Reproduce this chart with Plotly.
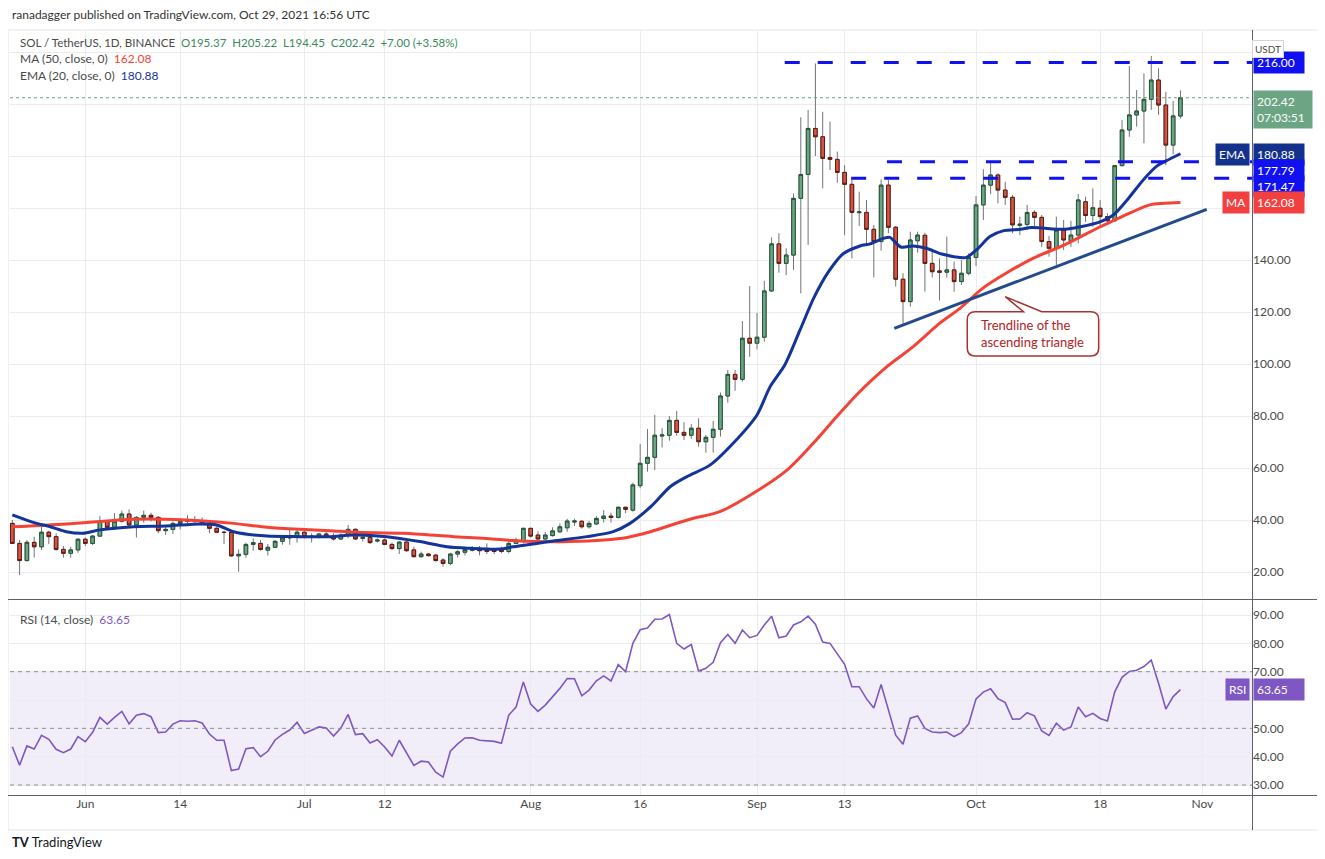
import pandas as pd
import plotly.graph_objects as go

# daily candles, first one is 2021-05-22
first_day = '2021-05-22'
opens = [38.7, 31.0, 24.4, 31.4, 29.7, 35.3, 33.6, 28.7, 27.2, 28.5,
         32.6, 31.0, 33.8, 39.5, 37.2, 39.5, 42.3, 38.1, 41.0, 41.8,
         41.0, 35.9, 36.4, 38.7, 39.5, 39.7, 39.5, 38.7, 36.8, 35.3,
         35.2, 26.2, 26.8, 30.6, 31.0, 28.4, 29.5, 31.8, 33.1, 33.8,
         35.3, 33.3, 33.8, 34.6, 33.8, 32.7, 34.2, 36.4, 32.9, 33.3,
         31.9, 32.3, 30.6, 29.0, 31.5, 28.5, 25.9, 26.9, 26.5, 24.6,
         23.3, 26.9, 27.6, 28.3, 28.7, 28.6, 28.5, 28.5, 27.9, 31.0,
         31.9, 36.8, 34.2, 32.7, 34.0, 35.5, 37.0, 39.2, 39.5, 37.4,
         38.5, 40.6, 41.5, 41.0, 44.9, 43.8, 53.2, 61.8, 64.1, 72.3,
         72.6, 78.3, 73.7, 72.6, 75.3, 70.1, 71.8, 74.9, 87.7, 96.0,
         94.1, 109.9, 108.0, 110.3, 128.1, 146.2, 138.7, 141.9, 163.7, 172.9,
         190.6, 187.4, 179.4, 178.7, 173.7, 169.1, 158.2, 158.3, 151.8, 147.1,
         168.8, 152.6, 132.6, 124.0, 147.4, 149.5, 138.7, 135.8, 135.3, 136.2,
         131.7, 134.9, 141.0, 161.2, 168.8, 172.7, 166.9, 164.1, 153.3, 153.7,
         158.3, 156.4, 147.1, 144.5, 151.5, 147.4, 149.6, 162.4, 157.1, 159.9,
         156.7, 155.1, 176.3, 190.0, 195.8, 197.3, 201.8, 209.2, 199.6, 184.2,
         195.37]
highs = [40.0, 32.3, 32.3, 33.6, 37.4, 35.9, 34.9, 30.0, 29.7, 33.0,
         33.3, 34.2, 41.5, 40.0, 42.6, 43.6, 44.1, 41.5, 43.6, 42.8,
         41.5, 37.7, 39.4, 40.6, 41.9, 41.5, 41.0, 39.4, 37.4, 35.9,
         35.6, 28.7, 31.3, 32.9, 32.3, 30.8, 32.3, 33.8, 36.2, 36.2,
         35.6, 34.9, 35.1, 35.5, 34.9, 34.9, 38.1, 36.8, 34.9, 33.8,
         32.9, 32.9, 31.3, 31.9, 31.9, 29.7, 27.8, 27.2, 26.9, 25.3,
         27.4, 28.5, 29.7, 30.0, 30.0, 31.0, 29.1, 29.7, 32.3, 33.2,
         37.0, 36.8, 35.6, 35.4, 37.2, 38.7, 40.5, 40.5, 40.0, 39.7,
         41.5, 43.8, 42.8, 45.1, 45.1, 54.4, 69.2, 75.0, 80.4, 75.3,
         80.0, 81.9, 77.6, 76.9, 79.1, 72.7, 78.1, 89.0, 97.7, 97.7,
         116.5, 130.0, 119.7, 132.0, 148.7, 150.3, 144.5, 165.6, 194.9, 197.7,
         215.6, 197.0, 193.2, 181.7, 176.5, 171.4, 166.3, 163.1, 153.5, 171.0,
         170.8, 153.1, 134.9, 150.9, 150.9, 150.5, 143.8, 140.6, 149.0, 139.4,
         140.0, 142.6, 164.6, 174.9, 177.4, 173.3, 170.1, 165.0, 156.7, 161.2,
         159.2, 157.3, 149.2, 156.7, 155.4, 155.1, 165.4, 164.4, 167.6, 163.1,
         157.9, 176.5, 193.8, 214.6, 205.4, 211.8, 218.5, 213.7, 204.7, 201.2,
         205.22]
lows = [30.8, 18.8, 24.0, 25.6, 28.5, 30.8, 28.2, 25.5, 25.5, 27.4,
        30.0, 30.4, 33.6, 36.2, 36.2, 39.0, 37.7, 33.3, 39.0, 39.4,
        34.9, 34.2, 34.6, 36.4, 38.1, 38.1, 38.1, 34.9, 34.9, 30.8,
        25.9, 20.1, 25.5, 28.2, 28.2, 26.3, 29.1, 30.5, 30.5, 31.3,
        32.9, 31.3, 32.9, 33.3, 32.1, 32.3, 33.0, 32.3, 31.7, 30.8,
        31.3, 30.3, 28.5, 26.9, 27.8, 25.6, 25.5, 25.9, 24.0, 22.1,
        22.6, 25.6, 26.4, 27.9, 26.4, 26.9, 26.9, 27.2, 27.2, 31.0,
        31.0, 33.3, 32.3, 32.3, 33.6, 35.0, 35.5, 37.7, 36.7, 36.7,
        38.1, 39.0, 39.0, 40.6, 42.6, 43.2, 52.2, 58.6, 59.2, 67.9,
        70.5, 72.4, 70.8, 71.3, 68.2, 65.9, 65.9, 72.1, 85.1, 89.7,
        93.2, 102.8, 105.6, 108.6, 127.8, 135.1, 134.2, 136.2, 127.2, 145.8,
        180.0, 167.6, 174.6, 169.7, 149.6, 140.6, 153.1, 145.9, 133.3, 143.6,
        150.3, 129.8, 115.2, 122.1, 142.8, 127.8, 133.3, 124.4, 133.2, 127.8,
        130.4, 134.1, 137.7, 155.4, 165.3, 161.8, 161.2, 150.3, 149.6, 151.5,
        152.8, 145.1, 141.3, 136.8, 143.8, 145.1, 146.4, 154.7, 152.8, 152.8,
        153.5, 154.7, 176.2, 187.4, 191.3, 184.9, 197.7, 195.8, 176.5, 180.6,
        194.45]
closes = [31.0, 24.4, 31.4, 29.7, 35.3, 33.6, 28.7, 27.2, 28.5, 32.6,
          31.0, 33.8, 39.5, 37.2, 39.5, 42.3, 38.1, 41.0, 41.8, 41.0,
          35.9, 36.4, 38.7, 39.5, 39.7, 39.5, 38.7, 36.8, 35.3, 35.2,
          26.2, 26.8, 30.6, 31.3, 28.7, 29.5, 31.8, 33.1, 33.8, 35.3,
          33.6, 33.8, 34.6, 33.8, 32.7, 34.2, 36.4, 32.7, 33.3, 31.3,
          32.3, 30.6, 29.0, 31.5, 28.2, 25.9, 26.9, 26.3, 24.4, 23.3,
          26.9, 27.8, 28.6, 28.7, 28.2, 27.9, 27.9, 27.9, 31.0, 32.3,
          36.8, 33.8, 32.7, 34.2, 35.8, 37.4, 39.6, 39.6, 37.4, 38.7,
          40.6, 41.5, 41.0, 44.9, 44.1, 53.5, 61.8, 64.1, 72.6, 72.7,
          78.3, 73.7, 72.6, 75.3, 70.1, 71.8, 74.9, 87.7, 96.0, 94.1,
          109.9, 108.0, 110.3, 128.1, 146.2, 138.7, 141.9, 163.7, 172.9, 190.6,
          187.4, 179.1, 178.7, 173.7, 169.1, 158.3, 158.5, 151.8, 147.1, 168.8,
          152.6, 132.6, 124.0, 147.7, 149.6, 138.7, 135.5, 135.3, 136.2, 131.7,
          134.9, 141.0, 161.2, 168.8, 172.7, 166.9, 164.1, 153.5, 153.8, 158.3,
          156.4, 147.1, 144.5, 151.5, 147.7, 149.6, 163.1, 157.1, 160.1, 156.7,
          155.1, 176.3, 190.0, 195.8, 197.3, 201.8, 209.2, 199.6, 184.2, 195.42,
          202.42]

rsi = [43.5, 37.0, 43.8, 42.7, 47.5, 46.1, 42.6, 41.4, 42.7, 47.1,
       45.3, 48.6, 53.9, 51.5, 53.9, 56.0, 51.6, 54.6, 55.2, 54.1,
       48.5, 48.7, 51.5, 52.7, 52.5, 52.7, 51.9, 48.0, 45.8, 45.8,
       35.1, 35.6, 42.8, 43.2, 40.0, 41.9, 45.9, 47.9, 49.4, 52.1,
       48.2, 49.4, 50.5, 50.1, 47.3, 50.1, 54.9, 47.8, 48.1, 44.8,
       46.0, 43.4, 40.2, 45.8, 41.2, 36.9, 38.4, 38.1, 34.5, 32.8,
       41.9, 44.5, 46.6, 46.7, 45.8, 45.5, 45.4, 44.7, 54.7, 57.5,
       66.4, 58.6, 56.0, 58.2, 61.1, 64.1, 67.6, 67.5, 61.5, 63.5,
       66.8, 68.5, 66.7, 72.5, 70.0, 80.0, 84.8, 85.4, 88.5, 88.6,
       90.2, 80.0, 78.0, 79.6, 70.2, 71.2, 73.3, 80.2, 83.1, 80.0,
       84.7, 82.0, 82.8, 86.5, 89.6, 82.0, 82.6, 86.5, 87.6, 89.6,
       86.8, 80.5, 80.0, 76.5, 72.6, 64.7, 64.7, 60.4, 57.2, 65.5,
       56.5, 47.6, 44.4, 53.6, 54.4, 50.0, 48.7, 48.5, 48.7, 47.1,
       48.5, 51.6, 60.4, 62.8, 64.0, 60.5, 59.1, 53.2, 53.3, 55.5,
       54.4, 49.1, 47.5, 51.8, 49.4, 50.5, 57.5, 54.1, 55.3, 53.5,
       52.6, 62.9, 68.0, 70.1, 70.5, 71.8, 74.1, 65.9, 56.8, 61.2,
       63.65]

# EMA(20) and MA(50) at day offsets from first_day
ema_days = [0, 3, 5.2, 7.4, 9.7, 12, 16.6, 21, 25.7, 28, 30.3, 34.9, 39.4, 43.5,
            46.7, 51.3, 55.8, 59.5, 62.7, 66.8, 68.6, 71.8, 74.1, 78.7, 82.3,
            84.6, 87.6, 90.1, 92.4, 95.6, 98.8, 102, 103.8, 105.8, 107.9,
            109.8, 111.8, 113.8, 116.1, 117.5, 119.3, 120.2, 121.7, 123.4,
            125.2, 127.3, 129.8, 130.7, 132.3, 133.9, 135.8, 138.1, 139.6,
            144.2, 146.3, 149, 150.8, 152.7, 154.9, 156.8, 158.1, 160]
ema_vals = [42.0, 39.0, 37.4, 35.5, 34.9, 36.2, 37.4, 37.7, 38.5, 38.1, 35.5,
            33.8, 33.6, 33.6, 34.2, 33.6, 31.7, 29.7, 29.1, 28.8, 29.7, 31.0,
            31.9, 33.6, 35.5, 38.7, 45.5, 52.8, 56.7, 61.2, 69.7, 80.4, 91.3,
            99.6, 113.1, 125.5, 135.5, 142.4, 145.4, 146.2, 148.3, 148.7, 145.0,
            145.4, 144.5, 142.3, 141.0, 141.0, 144.5, 149.0, 151.3, 151.8, 152.5,
            151.8, 152.8, 154.7, 157.3, 163.1, 170.8, 176.2, 178.2, 180.88]
ma_days = [0, 7.4, 16.6, 21, 25.7, 30.3, 34.9, 39.4, 43.5, 46.7, 53.6, 60.4,
           65, 68.6, 71.8, 76.4, 81, 84.2, 87.4, 92.8, 96.9, 101.5, 106.1,
           109.7, 112.9, 116.1, 119.8, 123.4, 127, 129.8, 132.9, 136.1, 139.8,
           144.4, 149, 150.8, 153.5, 155.8, 160]
ma_vals = [37.4, 38.5, 40.3, 40.3, 39.7, 38.7, 37.2, 36.4, 35.9, 35.3, 34.9,
           33.6, 32.9, 32.1, 31.7, 31.7, 32.3, 33.3, 35.5, 40.3, 43.2, 50.3,
           59.2, 69.5, 79.7, 89.4, 99.0, 106.7, 115.6, 121.4, 129.1, 134.9,
           140.6, 146.2, 152.8, 155.1, 158.6, 161.2, 162.08]

tick_dates = ['2021-06-01', '2021-06-14', '2021-07-01', '2021-07-12', '2021-08-01',
              '2021-08-16', '2021-09-01', '2021-09-13', '2021-10-01', '2021-10-18',
              '2021-11-01']
tick_text = ['Jun', '14', 'Jul', '12', 'Aug', '16', 'Sep', '13', 'Oct', '18', 'Nov']
price_ticks = [20, 40, 60, 80, 100, 120, 140, 160, 180, 200, 220]
price_hidden = [160, 180, 200, 220]   # labels covered by the tags on the price scale
rsi_ticks = [30, 40, 50, 60, 70, 80, 90]
rsi_hidden = [60]

# drawn levels: price and day offset where the dashed line starts
level_prices = [216.00, 177.79, 171.47]
level_start = [105.8, 119.8, 114.9]
trend_days = [120.8, 163.6]
trend_prices = [113.7, 159.5]

# ---- layout geometry (pixels, in screenshot coordinates) ----
OFF = 8                           # page body margin of the html file
W, H = 1325 - OFF, 851 - OFF
PL, PR, PT, PB = 10, 1252, 31, 795   # plot area edges in the screenshot
ML, MT = PL - OFF, PT - OFF
MR, MB = W - (PR - OFF), H - (PB - OFF)
PW, PH = PR - PL, PB - PT
X0, X1 = -0.315, 169.8            # visible range in day offsets
P0, P1 = 10.0, 228.08             # price range
R0, R1 = 26.47, 94.95             # rsi range
D_PRICE = (PB - 598) / PH
D_RSI = (PB - 601) / PH

base = pd.Timestamp(first_day)


def day(d):
    return base + pd.Timedelta(days=d)


def xp(px):
    return (px - PL) / PW


def yp(py):
    return (PB - py) / PH


def dx(d):
    return (d - X0) / (X1 - X0)


def py_price(p):
    return D_PRICE + (p - P0) / (P1 - P0) * (1 - D_PRICE)


dates = pd.date_range(first_day, periods=len(closes), freq='D')
body_hi = [max(o, c) for o, c in zip(opens, closes)]
body_lo = [min(o, c) for o, c in zip(opens, closes)]

UP, DN = '#6ba583', '#d75442'
UP_B, DN_B = '#225437', '#5b1a13'
WICK = '#737375'
EMA_C, MA_C = '#13359a', '#f44336'
LVL_C = '#1010f0'
RSI_C = '#7e57c2'
GRID = '#ececf0'
TXT = '#4a4a4a'

fig = go.Figure()
fig.add_trace(go.Candlestick(
    x=dates, open=opens, high=highs, low=lows, close=closes,
    increasing=dict(line=dict(color=WICK, width=1), fillcolor=UP),
    decreasing=dict(line=dict(color=WICK, width=1), fillcolor=DN),
    hoverinfo='skip', xaxis='x', yaxis='y'))
fig.add_trace(go.Candlestick(
    x=dates, open=opens, high=body_hi, low=body_lo, close=closes,
    increasing=dict(line=dict(color=UP_B, width=1), fillcolor=UP),
    decreasing=dict(line=dict(color=DN_B, width=1), fillcolor=DN),
    hoverinfo='skip', xaxis='x', yaxis='y'))
fig.add_trace(go.Scatter(x=[day(d) for d in ma_days], y=ma_vals, mode='lines',
                         line=dict(color=MA_C, width=3, shape='spline', smoothing=0.8),
                         hoverinfo='skip', xaxis='x', yaxis='y'))
fig.add_trace(go.Scatter(x=[day(d) for d in ema_days], y=ema_vals, mode='lines',
                         line=dict(color=EMA_C, width=3, shape='spline', smoothing=0.8),
                         hoverinfo='skip', xaxis='x', yaxis='y'))
fig.add_trace(go.Scatter(x=[day(d) for d in trend_days], y=trend_prices, mode='lines',
                         line=dict(color='#234b8c', width=3),
                         hoverinfo='skip', xaxis='x', yaxis='y'))
fig.add_trace(go.Scatter(x=dates, y=rsi, mode='lines', line=dict(color=RSI_C, width=1.6),
                         hoverinfo='skip', xaxis='x2', yaxis='y2'))

shapes = []
# RSI band and levels
shapes.append(dict(type='rect', xref='x2 domain', yref='y2', x0=0, x1=1, y0=30, y1=70,
                   fillcolor='rgba(126,87,194,0.10)', line=dict(width=0), layer='below'))
for lv in (30, 50, 70):
    shapes.append(dict(type='line', xref='x2 domain', yref='y2', x0=0, x1=1, y0=lv, y1=lv,
                       line=dict(color='#8a8d97', width=1, dash='4px,4px')))
# last price dotted line
shapes.append(dict(type='line', xref='x domain', yref='y', x0=0, x1=1, y0=closes[-1], y1=closes[-1],
                   line=dict(color=UP, width=1, dash='dot')))
# dashed horizontal levels
for p, s in zip(level_prices, level_start):
    shapes.append(dict(type='line', xref='x', yref='y', x0=day(s), x1=day(X1), y0=p, y1=p,
                       line=dict(color=LVL_C, width=3, dash='15px,18px')))

# callout box with pointer (paper coords)
bl, br = dx(130.8), dx(148.8)
bt, bb = py_price(120.1), py_price(103.1)
b1, b2 = dx(138.5), dx(141.0)
tx, ty = dx(136.0), py_price(125.9)
rx, ry = 8 / PW, 8 / PH
path = (f"M {bl+rx},{bt} L {b1},{bt} L {tx},{ty} L {b2},{bt} L {br-rx},{bt} "
        f"Q {br},{bt} {br},{bt-ry} L {br},{bb+ry} Q {br},{bb} {br-rx},{bb} "
        f"L {bl+rx},{bb} Q {bl},{bb} {bl},{bb+ry} L {bl},{bt-ry} Q {bl},{bt} {bl+rx},{bt} Z")
shapes.append(dict(type='path', xref='paper', yref='paper', path=path,
                   fillcolor='white', line=dict(color='#a83232', width=1.5)))

# frame and separators
FR = dict(color='#e0e3eb', width=1)
shapes.append(dict(type='rect', xref='paper', yref='paper', x0=xp(8), x1=xp(1318),
                   y0=yp(830), y1=yp(30), line=FR))
DARK = dict(color='#5d606b', width=1)
shapes.append(dict(type='line', xref='paper', yref='paper', x0=xp(8), x1=xp(1318),
                   y0=yp(599.5), y1=yp(599.5), line=DARK))
shapes.append(dict(type='line', xref='paper', yref='paper', x0=xp(8), x1=xp(1318),
                   y0=yp(795.5), y1=yp(795.5), line=DARK))
shapes.append(dict(type='line', xref='paper', yref='paper', x0=xp(1252.5), x1=xp(1252.5),
                   y0=yp(830), y1=yp(30), line=DARK))

ann = []


def tag(y, text, bg, yref='y', yshift=0, width=44):
    ann.append(dict(xref='paper', yref=yref, x=1, y=y, xanchor='left', yanchor='middle',
                    xshift=1, yshift=yshift, text=text, showarrow=False, align='left',
                    font=dict(color='white', size=12), bgcolor=bg, borderpad=3, width=width))


def side_tag(y, text, bg, yref='y', yshift=0):
    ann.append(dict(xref='paper', yref=yref, x=1, y=y, xanchor='right', yanchor='middle',
                    xshift=-2, yshift=yshift, text=text, showarrow=False,
                    font=dict(color='white', size=12), bgcolor=bg, borderpad=3))


tag(level_prices[0], '216.00', LVL_C)
ann.append(dict(xref='paper', yref='y', x=1, y=closes[-1], xanchor='left', yanchor='top',
                xshift=1, yshift=8, text='202.42<br>07:03:51', showarrow=False, align='left',
                font=dict(color='white', size=12), bgcolor=UP, borderpad=3, width=52))
tag(ema_vals[-1], '180.88', '#14318c', yshift=-1)
side_tag(ema_vals[-1], 'EMA', '#14318c', yshift=-1)
tag(level_prices[1], '177.79', LVL_C, yshift=-9)
tag(level_prices[2], '171.47', LVL_C, yshift=-8)
tag(ma_vals[-1], '162.08', '#f23f3f')
side_tag(ma_vals[-1], 'MA', '#f23f3f')
tag(rsi[-1], '63.65', RSI_C, yref='y2')
side_tag(rsi[-1], 'RSI', RSI_C, yref='y2')
ann.append(dict(xref='paper', yref='paper', x=xp(1284), y=yp(40), text='USDT', showarrow=False,
                font=dict(size=10, color=TXT), bgcolor='white', bordercolor='#d1d4dc',
                borderwidth=1, borderpad=2))

# callout text
ann.append(dict(xref='x', yref='y', x=day(139.8), y=111.6, text='Trendline of the<br>ascending triangle',
                showarrow=False, align='left', font=dict(size=13, color='#b02424')))

# legends / header / footer
ann.append(dict(xref='paper', yref='paper', x=xp(10), y=yp(15), xanchor='left', yanchor='middle',
                text='ranadagger published on TradingView.com, Oct 29, 2021 16:56 UTC',
                showarrow=False, font=dict(size=12, color='#333333')))
G = '#3b8a5a'
ann.append(dict(xref='paper', yref='paper', x=xp(18), y=yp(42), xanchor='left', yanchor='middle',
                text=(f"SOL / TetherUS, 1D, BINANCE  <span style='color:{G}'>O195.37  H205.22  "
                      f"L194.45  C202.42  +7.00 (+3.58%)</span>"),
                showarrow=False, font=dict(size=11.5, color=TXT)))
ann.append(dict(xref='paper', yref='paper', x=xp(18), y=yp(58), xanchor='left', yanchor='middle',
                text=f"MA (50, close, 0)  <span style='color:{MA_C}'>162.08</span>",
                showarrow=False, font=dict(size=12, color=TXT)))
ann.append(dict(xref='paper', yref='paper', x=xp(18), y=yp(75), xanchor='left', yanchor='middle',
                text=f"EMA (20, close, 0)  <span style='color:{EMA_C}'>180.88</span>",
                showarrow=False, font=dict(size=12, color=TXT)))
ann.append(dict(xref='paper', yref='paper', x=xp(18), y=yp(619), xanchor='left', yanchor='middle',
                text=f"RSI (14, close)  <span style='color:{RSI_C}'>63.65</span>",
                showarrow=False, font=dict(size=12, color=TXT)))
ann.append(dict(xref='paper', yref='paper', x=xp(10), y=yp(842), xanchor='left', yanchor='middle',
                text="<b>TV</b> TradingView", showarrow=False, font=dict(size=13, color='#131722')))

axis_common = dict(showgrid=True, gridcolor=GRID, gridwidth=1, zeroline=False, showline=False,
                   ticks='', tickfont=dict(size=12, color=TXT))
fig.update_layout(
    width=W, height=H,
    margin=dict(l=ML, r=MR, t=MT, b=MB),
    paper_bgcolor='white', plot_bgcolor='white',
    font=dict(family='Lato, Open Sans, sans-serif', size=12, color=TXT),
    showlegend=False,
    xaxis=dict(axis_common, type='date', domain=[0, 1], anchor='y', range=[day(X0), day(X1)],
               tickvals=tick_dates, showticklabels=False, rangeslider=dict(visible=False)),
    xaxis2=dict(axis_common, type='date', domain=[0, 1], anchor='y2', matches='x',
                range=[day(X0), day(X1)], tickvals=tick_dates, ticktext=tick_text,
                rangeslider=dict(visible=False)),
    yaxis=dict(axis_common, domain=[D_PRICE, 1], anchor='x', side='right', range=[P0, P1],
               tickvals=price_ticks,
               ticktext=['' if v in price_hidden else f'{v:.2f}' for v in price_ticks]),
    yaxis2=dict(axis_common, domain=[0, D_RSI], anchor='x2', side='right', range=[R0, R1],
                tickvals=rsi_ticks,
                ticktext=['' if v in rsi_hidden else f'{v:.2f}' for v in rsi_ticks]),
    shapes=shapes,
    annotations=ann,
)

fig.write_html("out.html")
